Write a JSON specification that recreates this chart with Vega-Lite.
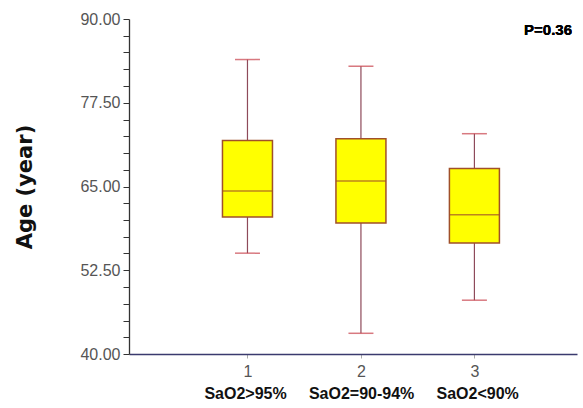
{
  "$schema": "https://vega.github.io/schema/vega-lite/v6.json",
  "width": 448,
  "height": 335,
  "autosize": "none",
  "padding": {"left": 129, "top": 19, "right": 6, "bottom": 54},
  "background": "white",
  "config": {"view": {"stroke": null}, "font": "Liberation Sans"},
  "data": {"values": [
    {"group": 1, "label": "SaO2>95%", "lower": 55.05, "q1": 60.43, "median": 64.32, "q3": 71.88, "upper": 83.95},
    {"group": 2, "label": "SaO2=90-94%", "lower": 43.09, "q1": 59.54, "median": 65.81, "q3": 72.14, "upper": 82.95},
    {"group": 3, "label": "SaO2<90%", "lower": 48.03, "q1": 56.55, "median": 60.78, "q3": 67.7, "upper": 72.88}
  ]},
  "layer": [
    {
      "layer": [
        {
          "mark": {"type": "rule", "color": "#8e4a5a", "strokeWidth": 1.2},
          "encoding": {
            "x": {"field": "group", "type": "quantitative", "scale": {"domain": [0, 3.86], "nice": false, "zero": false},
              "axis": {"values": [1, 2, 3], "format": "d", "title": null, "labelColor": "#555555", "labelFontSize": 16, "labelPadding": 5,
                "domainColor": "#3a3a6e", "domainWidth": 1.3, "tickColor": "#aaaaaa", "tickSize": 4, "grid": false}},
            "y": {"field": "lower", "type": "quantitative", "scale": {"domain": [40, 90], "nice": false, "zero": false},
              "axis": {"values": [40, 42.5, 45, 47.5, 50, 52.5, 55, 57.5, 60, 62.5, 65, 67.5, 70, 72.5, 75, 77.5, 80, 82.5, 85, 87.5, 90],
                "labelExpr": "(datum.value - 40) % 12.5 === 0 ? format(datum.value, '.2f') : ''", "labelOverlap": false,
                "title": "Age (year)", "titleFont": "DejaVu Sans", "titleFontWeight": "bold", "titleFontSize": 21, "titleColor": "#111111",
                "titlePadding": 44, "labelColor": "#555555", "labelFontSize": 16, "labelPadding": 3,
                "domainColor": "#333333", "domainWidth": 1.3, "tickColor": "#333333", "tickSize": 6, "grid": false}},
            "y2": {"field": "upper"}
          }
        },
        {
          "mark": {"type": "tick", "orient": "horizontal", "color": "#c8404a", "size": 25, "thickness": 1.5},
          "encoding": {
            "x": {"field": "group", "type": "quantitative"},
            "y": {"field": "upper", "type": "quantitative",
              "axis": {"values": [40, 42.5, 45, 47.5, 50, 52.5, 55, 57.5, 60, 62.5, 65, 67.5, 70, 72.5, 75, 77.5, 80, 82.5, 85, 87.5, 90],
                "labelExpr": "(datum.value - 40) % 12.5 === 0 ? format(datum.value, '.2f') : ''", "labelOverlap": false,
                "title": "Age (year)", "titleFont": "DejaVu Sans", "titleFontWeight": "bold", "titleFontSize": 21, "titleColor": "#111111",
                "titlePadding": 44, "labelColor": "#555555", "labelFontSize": 16, "labelPadding": 3,
                "domainColor": "#333333", "domainWidth": 1.3, "tickColor": "#333333", "tickSize": 6, "grid": false}}
          }
        },
        {
          "mark": {"type": "tick", "orient": "horizontal", "color": "#c8404a", "size": 25, "thickness": 1.5},
          "encoding": {
            "x": {"field": "group", "type": "quantitative"},
            "y": {"field": "lower", "type": "quantitative",
              "axis": {"values": [40, 42.5, 45, 47.5, 50, 52.5, 55, 57.5, 60, 62.5, 65, 67.5, 70, 72.5, 75, 77.5, 80, 82.5, 85, 87.5, 90],
                "labelExpr": "(datum.value - 40) % 12.5 === 0 ? format(datum.value, '.2f') : ''", "labelOverlap": false,
                "title": "Age (year)", "titleFont": "DejaVu Sans", "titleFontWeight": "bold", "titleFontSize": 21, "titleColor": "#111111",
                "titlePadding": 44, "labelColor": "#555555", "labelFontSize": 16, "labelPadding": 3,
                "domainColor": "#333333", "domainWidth": 1.3, "tickColor": "#333333", "tickSize": 6, "grid": false}}
          }
        },
        {
          "mark": {"type": "bar", "size": 50, "fill": "#ffff00", "stroke": "#a0502a", "strokeWidth": 1.5},
          "encoding": {
            "x": {"field": "group", "type": "quantitative"},
            "y": {"field": "q1", "type": "quantitative",
              "axis": {"values": [40, 42.5, 45, 47.5, 50, 52.5, 55, 57.5, 60, 62.5, 65, 67.5, 70, 72.5, 75, 77.5, 80, 82.5, 85, 87.5, 90],
                "labelExpr": "(datum.value - 40) % 12.5 === 0 ? format(datum.value, '.2f') : ''", "labelOverlap": false,
                "title": "Age (year)", "titleFont": "DejaVu Sans", "titleFontWeight": "bold", "titleFontSize": 21, "titleColor": "#111111",
                "titlePadding": 44, "labelColor": "#555555", "labelFontSize": 16, "labelPadding": 3,
                "domainColor": "#333333", "domainWidth": 1.3, "tickColor": "#333333", "tickSize": 6, "grid": false}},
            "y2": {"field": "q3"}
          }
        },
        {
          "mark": {"type": "tick", "orient": "horizontal", "color": "#a0502a", "size": 50, "thickness": 1.5},
          "encoding": {
            "x": {"field": "group", "type": "quantitative"},
            "y": {"field": "median", "type": "quantitative",
              "axis": {"values": [40, 42.5, 45, 47.5, 50, 52.5, 55, 57.5, 60, 62.5, 65, 67.5, 70, 72.5, 75, 77.5, 80, 82.5, 85, 87.5, 90],
                "labelExpr": "(datum.value - 40) % 12.5 === 0 ? format(datum.value, '.2f') : ''", "labelOverlap": false,
                "title": "Age (year)", "titleFont": "DejaVu Sans", "titleFontWeight": "bold", "titleFontSize": 21, "titleColor": "#111111",
                "titlePadding": 44, "labelColor": "#555555", "labelFontSize": 16, "labelPadding": 3,
                "domainColor": "#333333", "domainWidth": 1.3, "tickColor": "#333333", "tickSize": 6, "grid": false}}
          }
        },
        {
          "mark": {"type": "text", "text": "P=0.36", "align": "right", "baseline": "middle", "fontWeight": "bold", "fontSize": 15, "color": "#000000"},
          "encoding": {
            "x": {"datum": 3.86, "type": "quantitative"},
            "y": {"datum": 88.3, "type": "quantitative",
              "axis": {"values": [40, 42.5, 45, 47.5, 50, 52.5, 55, 57.5, 60, 62.5, 65, 67.5, 70, 72.5, 75, 77.5, 80, 82.5, 85, 87.5, 90],
                "labelExpr": "(datum.value - 40) % 12.5 === 0 ? format(datum.value, '.2f') : ''", "labelOverlap": false,
                "title": "Age (year)", "titleFont": "DejaVu Sans", "titleFontWeight": "bold", "titleFontSize": 21, "titleColor": "#111111",
                "titlePadding": 44, "labelColor": "#555555", "labelFontSize": 16, "labelPadding": 3,
                "domainColor": "#333333", "domainWidth": 1.3, "tickColor": "#333333", "tickSize": 6, "grid": false}}
          }
        }
      ]
    },
    {
      "mark": {"type": "point", "opacity": 0},
      "encoding": {
        "x": {"field": "group", "type": "quantitative", "scale": {"domain": [0, 3.86], "nice": false, "zero": false},
          "axis": {"orient": "bottom", "values": [1, 2, 3], "offset": 0, "labelPadding": 31, "title": null, "domain": false, "ticks": false,
            "labelExpr": "datum.value === 1 ? 'SaO2>95%' : datum.value === 2 ? 'SaO2=90-94%' : 'SaO2<90%'",
            "labelFontWeight": "bold", "labelFontSize": 16, "labelColor": "#111111", "grid": false}}
      }
    }
  ],
  "resolve": {"scale": {"x": "independent"}, "axis": {"x": "independent"}}
}
